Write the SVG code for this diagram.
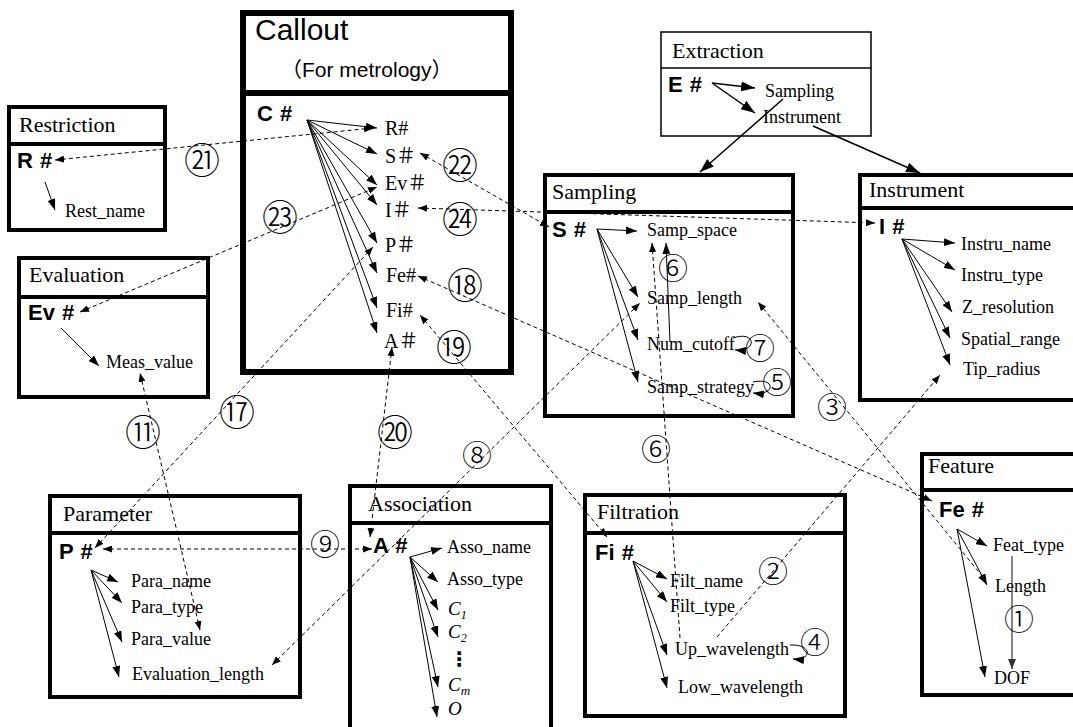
<svg xmlns="http://www.w3.org/2000/svg" width="1073" height="727" viewBox="0 0 1073 727">
<defs>
<marker id="ah" markerWidth="11" markerHeight="8" refX="11" refY="4" orient="auto-start-reverse" markerUnits="userSpaceOnUse"><path d="M0,0 L11,4 L0,8 z" fill="#000"/></marker>
<marker id="ad" markerWidth="9" markerHeight="7" refX="9" refY="3.5" orient="auto-start-reverse" markerUnits="userSpaceOnUse"><path d="M0,0 L9,3.5 L0,7 z" fill="#000"/></marker>
<marker id="ab" markerWidth="14" markerHeight="10" refX="14" refY="5" orient="auto" markerUnits="userSpaceOnUse"><path d="M0,0 L14,5 L0,10 z" fill="#000"/></marker>
<marker id="ag" markerWidth="10" markerHeight="8" refX="10" refY="4" orient="auto" markerUnits="userSpaceOnUse"><path d="M0,0 L10,4 L0,8 z" fill="#333"/></marker>
</defs>
<style>
.box{fill:#fff;stroke:#000;stroke-width:4}
.dv{stroke:#000;stroke-width:4}
.h{font-family:"Liberation Serif",serif;font-size:22px}
.t{font-family:"Liberation Serif",serif;font-size:18px}
.i{font-family:"Liberation Serif",serif;font-size:19px;font-style:italic}
.b{font-family:"Liberation Sans",sans-serif;font-size:22px;font-weight:bold;word-spacing:1px}
.c{font-family:"Liberation Serif","Noto Sans CJK SC",serif;font-size:20px}
.f{stroke:#000;stroke-width:1;fill:none;marker-end:url(#ah)}
.x{stroke:#000;stroke-width:1.5;fill:none;marker-end:url(#ab)}
.d{stroke:#000;stroke-width:1;fill:none;stroke-dasharray:4 3;marker-end:url(#ad)}
.dd{stroke:#000;stroke-width:1;fill:none;stroke-dasharray:4 3;marker-end:url(#ad);marker-start:url(#ad)}
.n{font-family:"Noto Sans CJK SC","DejaVu Sans",sans-serif;font-size:30px;font-weight:300;text-anchor:middle;dominant-baseline:central}
.n2{font-family:"Noto Sans CJK SC","DejaVu Sans",sans-serif;font-size:36px;font-weight:300;text-anchor:middle;dominant-baseline:central}
</style>

<g id="restriction">
<rect class="box" x="9" y="107" width="156" height="123"/>
<line class="dv" x1="9" y1="144" x2="165" y2="144"/>
<text class="h" x="19" y="132">Restriction</text>
<text class="b" x="17" y="168">R #</text>
<line class="f" x1="45" y1="182" x2="55" y2="210"/>
<text class="t" x="65" y="217">Rest_name</text>
</g>

<g id="callout">
<rect x="243" y="13" width="268" height="359" fill="#fff" stroke="#000" stroke-width="6"/>
<line x1="243" y1="93" x2="511" y2="93" stroke="#000" stroke-width="6"/>
<text x="255" y="40" font-family="Liberation Sans, sans-serif" font-size="30">Callout</text>
<text x="281" y="77" font-family="Liberation Sans, 'Noto Sans CJK SC', sans-serif" font-size="21">（For metrology）</text>
<text class="b" x="257" y="121">C #</text>
<line class="f" x1="307" y1="120" x2="377" y2="128"/>
<line class="f" x1="307" y1="120" x2="377" y2="154"/>
<line class="f" x1="307" y1="120" x2="377" y2="185"/>
<line class="f" x1="307" y1="120" x2="377" y2="205"/>
<line class="f" x1="307" y1="120" x2="377" y2="243"/>
<line class="f" x1="307" y1="120" x2="377" y2="273"/>
<line class="f" x1="307" y1="120" x2="377" y2="308"/>
<line class="f" x1="307" y1="120" x2="377" y2="333"/>
<text class="c" x="385" y="135">R#</text>
<text class="c" x="385" y="163">S＃</text>
<text class="c" x="385" y="190">Ev＃</text>
<text class="c" x="385" y="217">I＃</text>
<text class="c" x="385" y="252">P＃</text>
<text class="c" x="386" y="282">Fe#</text>
<text class="c" x="386" y="317">Fi#</text>
<text class="c" x="384" y="348">A＃</text>
</g>

<g id="extraction">
<rect x="661" y="32" width="210" height="104" fill="#fff" stroke="#000" stroke-width="1.5"/>
<line x1="661" y1="68" x2="871" y2="68" stroke="#000" stroke-width="1.5"/>
<text class="h" x="672" y="58">Extraction</text>
<text class="b" x="668" y="92">E #</text>
<line class="x" x1="712" y1="83" x2="755" y2="88"/>
<line class="x" x1="712" y1="83" x2="755" y2="113"/>
<text class="t" x="765" y="97">Sampling</text>
<text class="t" x="763" y="123">Instrument</text>
</g>

<g id="evaluation">
<rect class="box" x="19" y="258" width="189" height="139"/>
<line class="dv" x1="19" y1="297" x2="208" y2="297"/>
<text class="h" x="29" y="282">Evaluation</text>
<text class="b" x="28" y="320">Ev #</text>
<line class="f" x1="61" y1="328" x2="99" y2="366"/>
<text class="t" x="106" y="368">Meas_value</text>
</g>

<g id="sampling">
<rect class="box" x="545" y="175" width="248" height="241"/>
<line class="dv" x1="545" y1="212" x2="793" y2="212"/>
<text class="h" x="552" y="199">Sampling</text>
<text class="b" x="552" y="237">S #</text>
<line class="f" x1="597" y1="229" x2="637" y2="231"/>
<line class="f" x1="597" y1="229" x2="638" y2="297"/>
<line class="f" x1="597" y1="229" x2="638" y2="340"/>
<line class="f" x1="597" y1="229" x2="638" y2="382"/>
<text class="t" x="647" y="236">Samp_space</text>
<text class="t" x="647" y="304">Samp_length</text>
<text class="t" x="647" y="350">Num_cutoff</text>
<text class="t" x="647" y="393">Samp_strategy</text>
</g>

<g id="instrument">
<rect class="box" x="860" y="175" width="220" height="225"/>
<line class="dv" x1="860" y1="208" x2="1080" y2="208"/>
<text class="h" x="869" y="197">Instrument</text>
<text class="b" x="879" y="234">I #</text>
<line class="f" x1="902" y1="239" x2="955" y2="243"/>
<line class="f" x1="902" y1="239" x2="955" y2="270"/>
<line class="f" x1="902" y1="239" x2="952" y2="312"/>
<line class="f" x1="902" y1="239" x2="950" y2="338"/>
<line class="f" x1="902" y1="239" x2="950" y2="365"/>
<text class="t" x="961" y="250">Instru_name</text>
<text class="t" x="961" y="281">Instru_type</text>
<text class="t" x="962" y="313">Z_resolution</text>
<text class="t" x="961" y="345">Spatial_range</text>
<text class="t" x="963" y="375">Tip_radius</text>
</g>

<g id="parameter">
<rect class="box" x="50" y="496" width="250" height="201"/>
<line class="dv" x1="50" y1="533" x2="300" y2="533"/>
<text class="h" x="63" y="521">Parameter</text>
<text class="b" x="59" y="559">P #</text>
<line class="f" x1="91" y1="570" x2="118" y2="582"/>
<line class="f" x1="91" y1="570" x2="122" y2="603"/>
<line class="f" x1="91" y1="570" x2="122" y2="642"/>
<line class="f" x1="91" y1="570" x2="119" y2="677"/>
<text class="t" x="131" y="587">Para_name</text>
<text class="t" x="131" y="613">Para_type</text>
<text class="t" x="131" y="645">Para_value</text>
<text class="t" x="132" y="680">Evaluation_length</text>
</g>

<g id="association">
<rect class="box" x="350" y="486" width="201" height="250"/>
<line class="dv" x1="350" y1="523" x2="551" y2="523"/>
<text class="h" x="368" y="511">Association</text>
<text class="b" x="373" y="553">A #</text>
<line class="f" x1="410" y1="557" x2="442" y2="548"/>
<line class="f" x1="410" y1="557" x2="438" y2="582"/>
<line class="f" x1="410" y1="557" x2="438" y2="610"/>
<line class="f" x1="410" y1="557" x2="438" y2="637"/>
<line class="f" x1="410" y1="557" x2="438" y2="687"/>
<line class="f" x1="410" y1="557" x2="437" y2="717"/>
<text class="t" x="447" y="553">Asso_name</text>
<text class="t" x="447" y="585">Asso_type</text>
<text class="i" x="448" y="615">C<tspan font-size="12" dy="4">1</tspan></text>
<text class="i" x="448" y="638">C<tspan font-size="12" dy="4">2</tspan></text>
<text x="449" y="666" font-family="DejaVu Sans, sans-serif" font-size="20" font-weight="bold">⋮</text>
<text class="i" x="448" y="691">C<tspan font-size="13" dy="4">m</tspan></text>
<text class="i" x="448" y="715">O</text>
</g>

<g id="filtration">
<rect class="box" x="585" y="495" width="260" height="221"/>
<line class="dv" x1="585" y1="533" x2="845" y2="533"/>
<text class="h" x="597" y="519">Filtration</text>
<text class="b" x="595" y="560">Fi #</text>
<line class="f" x1="633" y1="561" x2="667" y2="579"/>
<line class="f" x1="633" y1="561" x2="667" y2="602"/>
<line class="f" x1="633" y1="561" x2="667" y2="655"/>
<line class="f" x1="633" y1="561" x2="667" y2="688"/>
<text class="t" x="670" y="587">Filt_name</text>
<text class="t" x="670" y="612">Filt_type</text>
<text class="t" x="675" y="655">Up_wavelength</text>
<text class="t" x="678" y="693">Low_wavelength</text>
</g>

<g id="feature">
<rect class="box" x="922" y="454" width="160" height="241"/>
<line class="dv" x1="922" y1="490" x2="1082" y2="490"/>
<text class="h" x="928" y="473">Feature</text>
<text class="b" x="939" y="517">Fe #</text>
<line class="f" x1="957" y1="529" x2="987" y2="546"/>
<line class="f" x1="957" y1="529" x2="987" y2="585"/>
<line class="f" x1="957" y1="529" x2="985" y2="677"/>
<text class="t" x="993" y="551">Feat_type</text>
<text class="t" x="995" y="592">Length</text>
<text class="t" x="994" y="684">DOF</text>
</g>

<g id="connectors">
<line class="x" x1="783" y1="99" x2="700" y2="172"/>
<line class="x" x1="813" y1="126" x2="920" y2="173"/>
<line x1="1012" y1="556" x2="1012" y2="669" stroke="#333" stroke-width="1.2" marker-end="url(#ag)"/>
<line class="f" x1="670" y1="342" x2="666" y2="243"/>
<line class="d" x1="680" y1="638" x2="652" y2="243"/>
<line class="d" x1="717" y1="637" x2="940" y2="375"/>
<line class="d" x1="983" y1="577" x2="758" y2="302"/>
<line class="dd" x1="272" y1="665" x2="640" y2="303"/>
<line class="dd" x1="103" y1="549" x2="372" y2="549"/>
<line class="dd" x1="200" y1="630" x2="140" y2="373"/>
<line class="dd" x1="95" y1="548" x2="373" y2="247"/>
<line class="dd" x1="418" y1="276" x2="932" y2="501"/>
<line class="dd" x1="420" y1="315" x2="607" y2="537"/>
<line class="dd" x1="392" y1="347" x2="370" y2="537"/>
<line class="dd" x1="55" y1="160" x2="373" y2="128"/>
<line class="dd" x1="420" y1="153" x2="549" y2="227"/>
<line class="dd" x1="80" y1="312" x2="377" y2="187"/>
<line class="dd" x1="418" y1="208" x2="875" y2="223"/>
<path class="f" d="M733,338 C756,330 758,352 735,350"/>
<path class="f" d="M753,382 C776,377 776,396 753,393"/>
<path class="f" d="M790,645 C813,644 812,661 793,659"/>
</g>

<g id="labels">
<text class="n" x="1019" y="617">①</text>
<text class="n" x="773" y="569">②</text>
<text class="n" x="832" y="405">③</text>
<text class="n" x="815" y="640">④</text>
<text class="n" x="777" y="380">⑤</text>
<text class="n" x="673" y="266">⑥</text>
<text class="n" x="656" y="447">⑥</text>
<text class="n" x="760" y="346">⑦</text>
<text class="n" x="477" y="453">⑧</text>
<text class="n" x="325" y="542">⑨</text>
<text class="n2" x="143" y="430">⑪</text>
<text class="n2" x="237" y="410">⑰</text>
<text class="n2" x="465" y="283">⑱</text>
<text class="n2" x="454" y="345">⑲</text>
<text class="n2" x="395" y="430">⑳</text>
<text class="n2" x="202" y="158">㉑</text>
<text class="n2" x="460" y="163">㉒</text>
<text class="n2" x="280" y="215">㉓</text>
<text class="n2" x="460" y="217">㉔</text>
</g>
</svg>
